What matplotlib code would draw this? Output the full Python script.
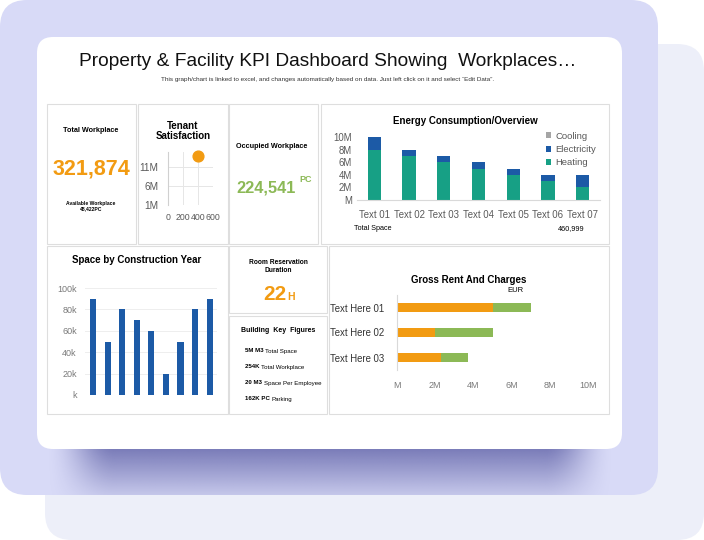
import numpy as np
import matplotlib.pyplot as plt
from matplotlib.patches import FancyBboxPatch, Rectangle

plt.rcParams['font.family'] = ['Liberation Sans', 'DejaVu Sans']

# ---- data ----
energy_labels = ['Text 01', 'Text 02', 'Text 03', 'Text 04', 'Text 05', 'Text 06', 'Text 07']
heating = [8, 7, 6, 5, 4, 3, 2]          # M
electricity = [2, 1, 1, 1, 1, 1, 2]      # M
cooling = [0, 0, 0, 0, 0, 0, 0]          # M

year_space = [90, 50, 80, 70, 60, 20, 50, 80, 90]   # k

rent_labels = ['Text Here 01', 'Text Here 02', 'Text Here 03']
rent = [5, 2, 2.3]        # M EUR
charges = [2, 3, 1.4]     # M EUR

satisfaction_x = [400]
satisfaction_y = [14]     # M

key_figures = [('5M M3', 'Total Space'), ('254K', 'Total Workplace'),
               ('20 M3', 'Space Per Employee'), ('162K PC', 'Parking')]

W, H = 704, 540
ORANGE = '#f29b12'
GREEN = '#8cb956'
BLUE = '#1c5aa6'
TEAL = '#17a085'
GRAYTXT = '#7a7a7a'

fig = plt.figure(figsize=(W / 100, H / 100), dpi=100)
bg = fig.add_axes([0, 0, 1, 1])
bg.set_xlim(0, W)
bg.set_ylim(H, 0)
bg.axis('off')


def box(x0, y0, x1, y1):
    return [x0 / W, 1 - y1 / H, (x1 - x0) / W, (y1 - y0) / H]


def rbox(x0, y0, x1, y1, r, z=1, **kw):
    p = FancyBboxPatch((x0, y0), x1 - x0, y1 - y0,
                       boxstyle='round,pad=0,rounding_size=%d' % r, zorder=z, **kw)
    bg.add_patch(p)
    return p


# background cards
rbox(45, 44, 704, 540, 27, fc='#edeff9', ec='none')
lav = rbox(0, 0, 658, 495, 27, z=2, fc='#d8daf7', ec='none')

# soft shadow under the white card, kept inside the lavender card
yy = np.linspace(0, 1, 60)[:, None]
xx = np.linspace(37, 622, 300)[None, :]
fade_y = 0.85 * (1 - 0.8 * yy)
left = np.clip((xx - 45) / 70, 0, 1)
right = np.clip((615 - xx) / 70, 0, 1)
fade_x = (left * left * (3 - 2 * left)) * (right * right * (3 - 2 * right))
rgba = np.zeros((60, 300, 4))
rgba[..., 0] = 100 / 255
rgba[..., 1] = 102 / 255
rgba[..., 2] = 170 / 255
rgba[..., 3] = fade_y * fade_x
im = bg.imshow(rgba, extent=(37, 622, 495, 446), origin='upper',
               aspect='auto', zorder=3, interpolation='bilinear')
im.set_clip_path(lav)
bg.set_xlim(0, W)
bg.set_ylim(H, 0)

rbox(37, 37, 622, 449, 16, z=4, fc='white', ec='none')

# panels
panels = [(47, 104, 136, 244), (138, 104, 228, 244), (229, 104, 318, 244),
          (321, 104, 609, 244), (47, 246, 228, 414), (229, 246, 327, 313),
          (229, 316, 327, 414), (329, 246, 609, 414)]
for x0, y0, x1, y1 in panels:
    bg.add_patch(Rectangle((x0, y0), x1 - x0, y1 - y0, fc='white',
                           ec='#dedede', lw=0.8, zorder=5))

# titles
bg.text(328, 61, 'Property & Facility KPI Dashboard Showing  Workplaces\u2026',
        ha='center', va='center', fontsize=13.8, color='#111111', zorder=6)
bg.text(328, 80, 'This graph/chart is linked to excel, and changes automatically '
        'based on data. Just left click on it and select \u201cEdit Data\u201d.',
        ha='center', va='center', fontsize=4.6, color='#333333', zorder=6)


def label(x, y, s, **kw):
    kw.setdefault('ha', 'center')
    kw.setdefault('va', 'center')
    return bg.text(x, y, s, zorder=6, **kw)


# total workplace
label(91, 130, 'Total Workplace', fontsize=5.2, fontweight='bold')
label(91, 169, '321,874', fontsize=15.5, fontweight='bold', color=ORANGE)
label(91, 206, 'Available Workplace\n48,422PC', fontsize=3.6,
      fontweight='bold', linespacing=1.1)

# tenant satisfaction
label(183, 131, 'Tenant\nSatisfaction', fontsize=7, fontweight='bold',
      linespacing=1.0)
ax = fig.add_axes(box(168, 152, 213, 205))
ax.patch.set_visible(False)
ax.scatter(satisfaction_x, satisfaction_y, s=60, color=ORANGE, zorder=3,
           clip_on=False)
ax.set_xlim(0, 600)
ax.set_ylim(1, 15)
ax.set_xticks([0, 200, 400, 600])
ax.set_yticks([1, 6, 11])
ax.set_yticklabels(['1M', '6M', '11M'])
ax.grid(color='#e6e6e6', lw=0.7)
for s in ax.spines.values():
    s.set_visible(False)
ax.spines['left'].set_visible(True)
ax.spines['left'].set_color('#d0d0d0')
ax.tick_params(length=0, labelcolor='#595959')
ax.tick_params(axis='y', pad=7, labelsize=7.2)
ax.tick_params(axis='x', pad=6, labelsize=6.3)

# occupied workplace
label(272, 146, 'Occupied Workplace', fontsize=5.2, fontweight='bold')
label(266, 188, '224,541', fontsize=11.8, fontweight='bold', color=GREEN)
label(306, 179, 'PC', fontsize=6.5, fontweight='bold', color=GREEN)

# energy consumption
label(465, 121, 'Energy Consumption/Overview', fontsize=7, fontweight='bold')
ax = fig.add_axes(box(357, 137, 600, 200))
ax.patch.set_visible(False)
xs = range(len(energy_labels))
b1 = ax.bar(xs, heating, width=0.38, color=TEAL)
b2 = ax.bar(xs, electricity, width=0.38, bottom=heating, color=BLUE)
tops = [h + e for h, e in zip(heating, electricity)]
b3 = ax.bar(xs, cooling, width=0.38, bottom=tops, color='#a5a5a5')
ax.set_xlim(-0.5, 6.5)
ax.set_ylim(0, 10)
ax.set_yticks([0, 2, 4, 6, 8, 10])
ax.set_yticklabels(['M', '2M', '4M', '6M', '8M', '10M'])
ax.set_xticks(list(xs))
ax.set_xticklabels(energy_labels)
for s in ax.spines.values():
    s.set_visible(False)
ax.spines['bottom'].set_visible(True)
ax.spines['bottom'].set_color('#d9d9d9')
ax.tick_params(length=0, labelsize=6.9, labelcolor='#595959')
ax.tick_params(axis='x', pad=7)
fig.legend([b3, b2, b1], ['Cooling', 'Electricity', 'Heating'],
           loc='upper left', bbox_to_anchor=(541 / W, 1 - 127 / H),
           bbox_transform=fig.transFigure, frameon=False, fontsize=6.8,
           labelcolor='#595959', handlelength=0.6, handleheight=0.6,
           handletextpad=0.4, labelspacing=0.45, borderpad=0)
label(354, 229, 'Total Space', ha='left', fontsize=5.2)
label(585, 229, '460,999', ha='right', fontsize=5.2)

# space by construction year
label(137, 260, 'Space by Construction Year', fontsize=7, fontweight='bold')
ax = fig.add_axes(box(85, 288, 217, 395))
ax.patch.set_visible(False)
ax.bar(range(len(year_space)), year_space, width=0.42, color=BLUE, zorder=3)
ax.set_xlim(-0.55, 8.5)
ax.set_ylim(0, 100)
ax.set_yticks([0, 20, 40, 60, 80, 100])
ax.set_yticklabels(['k', '20k', '40k', '60k', '80k', '100k'])
ax.set_xticks([])
ax.grid(axis='y', color='#eeeeee', lw=0.7)
for s in ax.spines.values():
    s.set_visible(False)
ax.tick_params(length=0, labelsize=6.5, labelcolor=GRAYTXT, pad=6)

# room reservation
label(278, 266, 'Room Reservation\nDuration', fontsize=4.8, fontweight='bold',
      linespacing=1.2)
label(275, 295, '22', fontsize=15, fontweight='bold', color=ORANGE)
label(291, 297, 'H', fontsize=7.5, fontweight='bold', color=ORANGE)

# building key figures
label(278, 331, 'Building  Key  Figures', fontsize=5, fontweight='bold')
for i, (bold, rest) in enumerate(key_figures):
    y = 351 + i * 16
    t = label(245, y, bold + ' ', ha='left', fontsize=4.4, fontweight='bold')
    bg.annotate(rest, xycoords=t, xy=(1, 0.5), va='center', ha='left',
                fontsize=4.4, zorder=6)

# gross rent and charges
label(469, 280, 'Gross Rent And Charges', fontsize=7, fontweight='bold')
label(515, 290, 'EUR', fontsize=5.5)
ax = fig.add_axes(box(397, 295, 588, 370))
ax.patch.set_visible(False)
ys = range(len(rent_labels))
ax.barh(ys, rent, height=0.36, color=ORANGE)
ax.barh(ys, charges, height=0.36, left=rent, color=GREEN)
ax.set_ylim(2.5, -0.5)
ax.set_xlim(0, 10)
ax.set_yticks(list(ys))
ax.set_yticklabels(rent_labels)
ax.set_xticks([0, 2, 4, 6, 8, 10])
ax.set_xticklabels(['M', '2M', '4M', '6M', '8M', '10M'])
for s in ax.spines.values():
    s.set_visible(False)
ax.spines['left'].set_visible(True)
ax.spines['left'].set_color('#d9d9d9')
ax.tick_params(length=0)
ax.tick_params(axis='x', labelsize=6.5, labelcolor=GRAYTXT, pad=8)
ax.tick_params(axis='y', labelsize=6.9, labelcolor='#333333', pad=9)

fig.savefig('out.png', dpi=100)
